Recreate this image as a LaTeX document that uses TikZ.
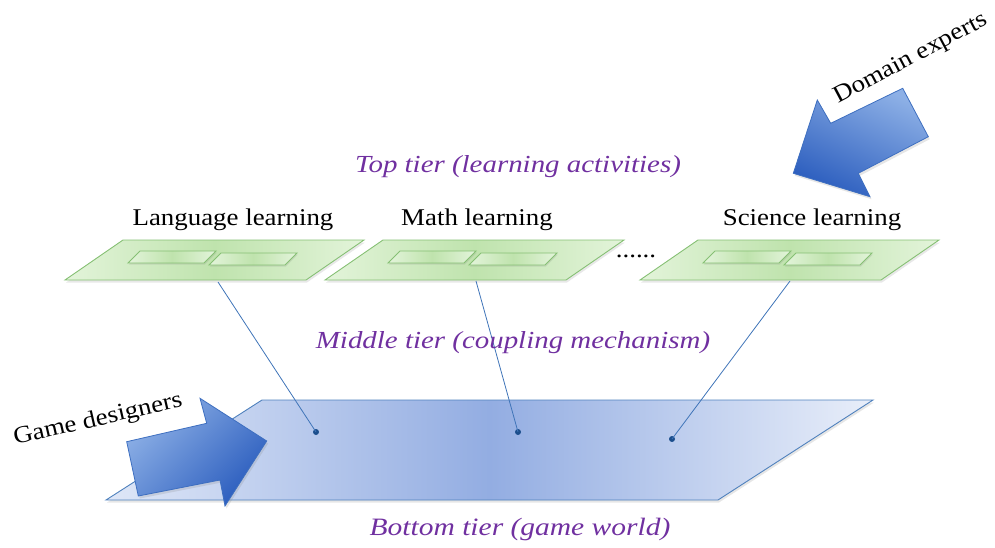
\documentclass[tikz,border=0pt]{standalone}
\usepackage{fontspec}
\setmainfont{Liberation Serif}
\newfontfamily\widefont[FakeStretch=1.12]{Liberation Serif}
\newfontfamily\wideital[FakeStretch=1.18]{Liberation Serif Italic}
\usetikzlibrary{shadows}
\definecolor{purp}{HTML}{7030A0}
\definecolor{gedge}{HTML}{86C074}
\definecolor{glight}{HTML}{E3F4DA}
\definecolor{gmid}{HTML}{BFE3AD}
\definecolor{bedge}{HTML}{4F81BD}
\definecolor{blight}{HTML}{DFE7F7}
\definecolor{bmid}{HTML}{93ADE2}
\definecolor{alight}{HTML}{8DB0E6}
\definecolor{adark}{HTML}{2B5DBE}
\definecolor{aedge}{HTML}{3E6FC0}
\definecolor{linec}{HTML}{3F74B8}
\definecolor{dotc}{HTML}{1B4E8C}
\tikzset{
  panel/.style={draw=gedge, line width=0.9pt, left color=glight, right color=glight, middle color=gmid,
     drop shadow={opacity=0.18, shadow xshift=1pt, shadow yshift=-2.5pt}},
  subpanel/.style={draw=gedge, line width=0.9pt, left color=glight, right color=glight, middle color=gmid,
     drop shadow={opacity=0.18, shadow xshift=0.8pt, shadow yshift=-1.5pt}},
  world/.style={draw=bedge, line width=0.9pt, left color=blight, right color=blight!70!white, middle color=bmid,
     drop shadow={opacity=0.2, shadow xshift=1pt, shadow yshift=-2.5pt}},
  bigarrow/.style={draw=aedge, line width=0.8pt, shading=axis, top color=alight, bottom color=adark,
     drop shadow={opacity=0.2, shadow xshift=1.5pt, shadow yshift=-2.5pt}},
  tierlabel/.style={text=purp, font=\wideital\fontsize{24.5}{27}\selectfont, inner sep=0pt},
  actlabel/.style={text=black, font=\widefont\fontsize{24}{27}\selectfont, inner sep=0pt},
  actorlabel/.style={text=black, font=\widefont\fontsize{24}{27}\selectfont, inner sep=0pt},
  link/.style={draw=linec, line width=0.8pt},
  dotmark/.style={circle, fill=dotc, inner sep=0pt, minimum size=6pt}
}
\begin{document}
\begin{tikzpicture}[x=1pt,y=-1pt]
\useasboundingbox (0,0) rectangle (995,548);
% bottom tier
\path[world] (262,400) -- (873,400) -- (718,500) -- (106,500) -- cycle;
% top tier panels
\foreach \X/\nm in {123/lang,383/math,698/sci}{
  \path[panel] (\X,240) -- (\X+241,240) -- (\X+183,280) -- (\X-58,280) -- cycle;
  \path[subpanel] (\X+17,251) -- (\X+93,251) -- (\X+81,263) -- (\X+5,263) -- cycle;
  \path[subpanel] (\X+98,253) -- (\X+174,253) -- (\X+162,265) -- (\X+86,265) -- cycle;
}
\coordinate (langbot) at (218,282);
\coordinate (mathbot) at (476,281);
\coordinate (scibot) at (790,281);
\node[dotmark] (d1) at (316,432) {};
\node[dotmark] (d2) at (518,432) {};
\node[dotmark] (d3) at (672,439) {};
\draw[link] (langbot) -- (d1.center);
\draw[link] (mathbot) -- (d2.center);
\draw[link] (scibot) -- (d3.center);
% labels
\node[tierlabel] (toptier) at (518,167) {Top tier (learning activities)};
\node[tierlabel] (midtier) at (513,343) {Middle tier (coupling mechanism)};
\node[tierlabel, font=\wideital\fontsize{25}{27}\selectfont] (bottier) at (520,529) {Bottom tier (game world)};
\node[actlabel] (langlab) at (233,220) {Language learning};
\node[actlabel] (mathlab) at (477,220) {Math learning};
\node[actlabel] (scilab) at (812,220) {Science learning};
\node[actlabel] (dots) at (636,256) {......};
% arrows
\path[bigarrow, shading angle=-25] (902.7,88.3) -- (830.7,123.3) -- (817.3,100) -- (793.3,173.3) -- (870,196.7) -- (858.3,173.3) -- (928.3,136.7) -- cycle;
\path[bigarrow, shading angle=45] (126.7,441.7) -- (206.7,423.3) -- (200,398.3) -- (266.7,441) -- (225,506) -- (220,480) -- (138.3,496) -- cycle;
\node[actorlabel, rotate=28] (domain) at (911,59) {Domain experts};
\node[actorlabel, rotate=13] (game) at (98,420) {Game designers};
\end{tikzpicture}
\end{document}
